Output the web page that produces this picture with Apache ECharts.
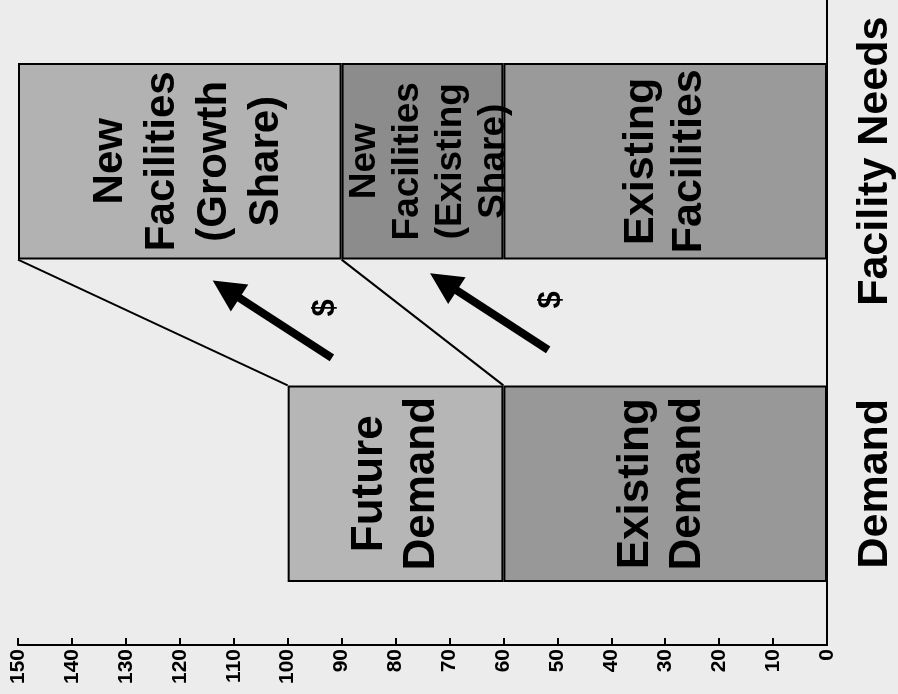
<!DOCTYPE html>
<html><head><meta charset="utf-8">
<script src="https://cdn.jsdelivr.net/npm/echarts@6/dist/echarts.min.js"></script>
<style>html,body{margin:0;padding:0;background:#ececec;} #chart{width:898px;height:694px;}</style>
</head><body><div id="chart"></div>
<script>
// ---- data ----
const categories = ['Demand', 'Facility Needs'];
const existingDemand = [60, '-'];
const futureDemand = [40, '-'];
const existingFacilities = ['-', 60];
const newFacilitiesExistingShare = ['-', 30];
const newFacilitiesGrowthShare = ['-', 60];
const valueAxisMin = 0, valueAxisMax = 150, valueAxisStep = 10;
// connector lines: [demand stack value, facility stack value]
const connectorPairs = [[100, 150], [60, 90]];
// arrows: [tailValue, tailCategoryPos, headValue, headCategoryPos]
const arrows = [[91.8, 0.39, 113.9, 0.63], [51.7, 0.415, 73.6, 0.653]];
// dollar signs: [value, categoryPos]
const dollarSigns = [[93, 0.545], [51, 0.57]];

const FONT = '"Liberation Sans", Arial, Helvetica, sans-serif';
const BAR_FRAC = 0.61;
const half = BAR_FRAC / 2;

const chart = echarts.init(document.getElementById('chart'));
const splitName = p => p.seriesName.split(' ').join('\n');

function barSeries(name, data, color, fontSize, lineHeight, dx) {
  return {
    name, type: 'bar', stack: 'total', data, barWidth: (BAR_FRAC * 100) + '%',
    itemStyle: { color, borderColor: '#000', borderWidth: 2 },
    label: { show: true, position: 'inside', rotate: 90, formatter: splitName, offset: [0, dx || 0],
      fontFamily: FONT, fontWeight: 'bold', fontSize, lineHeight, color: '#000' },
    emphasis: { disabled: true }
  };
}

const connectorData = connectorPairs.map(p => [p[0], 0 + half, p[1], 1 - half]);

chart.setOption({
  backgroundColor: '#ececec',
  animation: false,
  grid: { left: 18, right: 71, top: 0, bottom: 49 },
  xAxis: {
    type: 'value', inverse: true, min: valueAxisMin, max: valueAxisMax, interval: valueAxisStep,
    position: 'bottom',
    axisLine: { show: true, onZero: false, lineStyle: { color: '#000', width: 2 } },
    axisTick: { show: true, inside: true, length: 7, lineStyle: { color: '#000', width: 2 } },
    axisLabel: { rotate: 90, fontFamily: FONT, fontWeight: 'bold', fontSize: 21, color: '#000', margin: 4 },
    splitLine: { show: false }
  },
  yAxis: [{
    type: 'category', data: categories, position: 'right',
    axisLine: { show: true, onZero: false, lineStyle: { color: '#000', width: 2 } },
    axisTick: { show: false },
    axisLabel: { rotate: 90, interval: 0, hideOverlap: false, fontFamily: FONT, fontWeight: 'bold', fontSize: 43, color: '#000', margin: 27 }
  }, {
    type: 'value', min: -0.5, max: 1.5, show: false
  }],
  series: [
    barSeries('Existing Demand', existingDemand, '#989898', 44, 52, -3),
    barSeries('Future Demand', futureDemand, '#b6b6b6', 44, 52, 0),
    barSeries('Existing Facilities', existingFacilities, '#9a9a9a', 43, 48, 0),
    barSeries('New Facilities (Existing Share)', newFacilitiesExistingShare, '#8c8c8c', 37, 43, 7),
    barSeries('New Facilities (Growth Share)', newFacilitiesGrowthShare, '#b2b2b2', 42, 52, 9),
    {
      type: 'custom', yAxisIndex: 1, data: connectorData, silent: true,
      encode: { x: [0, 2], y: [1, 3] },
      renderItem: (params, api) => {
        const a = api.coord([api.value(0), api.value(1)]);
        const b = api.coord([api.value(2), api.value(3)]);
        return { type: 'line', shape: { x1: a[0], y1: a[1], x2: b[0], y2: b[1] },
          style: { stroke: '#000', lineWidth: 2 } };
      }
    },
    {
      type: 'custom', yAxisIndex: 1, data: arrows, silent: true,
      encode: { x: [0, 2], y: [1, 3] },
      renderItem: (params, api) => {
        const t = api.coord([api.value(0), api.value(1)]);
        const h = api.coord([api.value(2), api.value(3)]);
        const dx = h[0] - t[0], dy = h[1] - t[1], L = Math.hypot(dx, dy);
        const ux = dx / L, uy = dy / L;
        const headLen = 32, headW = 16;
        const bx = h[0] - ux * headLen, by = h[1] - uy * headLen;
        return { type: 'group', children: [
          { type: 'line', shape: { x1: t[0], y1: t[1], x2: bx + ux * 3, y2: by + uy * 3 },
            style: { stroke: '#000', lineWidth: 8 } },
          { type: 'polygon', shape: { points: [[h[0], h[1]], [bx - uy * headW, by + ux * headW], [bx + uy * headW, by - ux * headW]] },
            style: { fill: '#000' } }
        ] };
      }
    },
    {
      type: 'custom', yAxisIndex: 1, data: dollarSigns, silent: true,
      renderItem: (params, api) => {
        const p = api.coord([api.value(0), api.value(1)]);
        return { type: 'text', x: p[0], y: p[1], rotation: Math.PI / 2,
          style: { text: '$', font: 'bold 31px ' + FONT, fill: '#000', align: 'center', verticalAlign: 'middle' } };
      }
    }
  ]
});
</script></body></html>
